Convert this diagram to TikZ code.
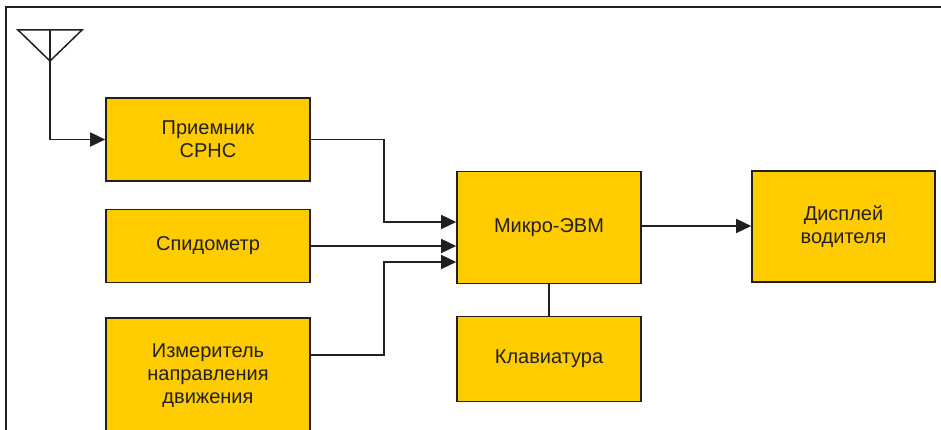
\documentclass[tikz,border=0pt]{standalone}
\usepackage{fontspec}
\setmainfont{Liberation Sans}
\usetikzlibrary{arrows.meta}
\definecolor{ink}{RGB}{35,31,32}
\definecolor{boxfill}{RGB}{255,204,0}
\begin{document}
\begin{tikzpicture}[x=1pt,y=-1pt,
  blk/.style={draw=ink,line width=1.6pt,fill=boxfill,inner sep=0pt,align=center,
    font=\fontsize{20}{23}\selectfont,text=ink},
  wire/.style={draw=ink,line width=1.5pt},
  arr/.style={wire,-{Triangle[length=15pt,width=14pt]}}]
\useasboundingbox (0,0) rectangle (941,430);
\clip (0,0) rectangle (941,430);
\draw[ink,line width=1.5pt] (6,432) -- (6,7) -- (942,7);
% blocks
\node[blk,minimum width=204pt,minimum height=83pt] (rx) at (208,139.5) {Приемник\\СРНС};
\node[blk,minimum width=204pt,minimum height=73pt] (sp) at (208,246) {Спидометр};
\node[blk,minimum width=204pt,minimum height=116pt] (ms) at (208,376) {Измеритель\\направления\\движения};
\node[blk,minimum width=184pt,minimum height=112pt] (mc) at (549,227.5) {Микро-ЭВМ};
\node[blk,minimum width=184pt,minimum height=85pt] (kb) at (549,359) {Клавиатура};
\node[blk,minimum width=183pt,minimum height=111pt] (dp) at (843.5,226.5) {Дисплей\\водителя};
% antenna
\coordinate (antL) at (18,30);
\coordinate (antR) at (82,30);
\coordinate (antA) at (50,61);
\coordinate (antT) at (50,30);
\draw[wire,line join=miter] (antL) -- (antR) -- (antA) -- cycle;
\draw[arr] (antT) |- (rx.west);
% connectors
\coordinate (j1) at (384,222);
\coordinate (j2) at (384,262);
\draw[arr] (rx.east) -| (j1) -- (mc.west |- j1);
\draw[arr] (sp.east) -- (mc.west |- sp.east);
\draw[arr] (ms.east |- 0,355) -| (j2) -- (mc.west |- j2);
\draw[arr] (mc.east |- 0,226) -- (dp.west |- 0,226);
\draw[wire] (mc.south) -- (kb.north);
\end{tikzpicture}
\end{document}
